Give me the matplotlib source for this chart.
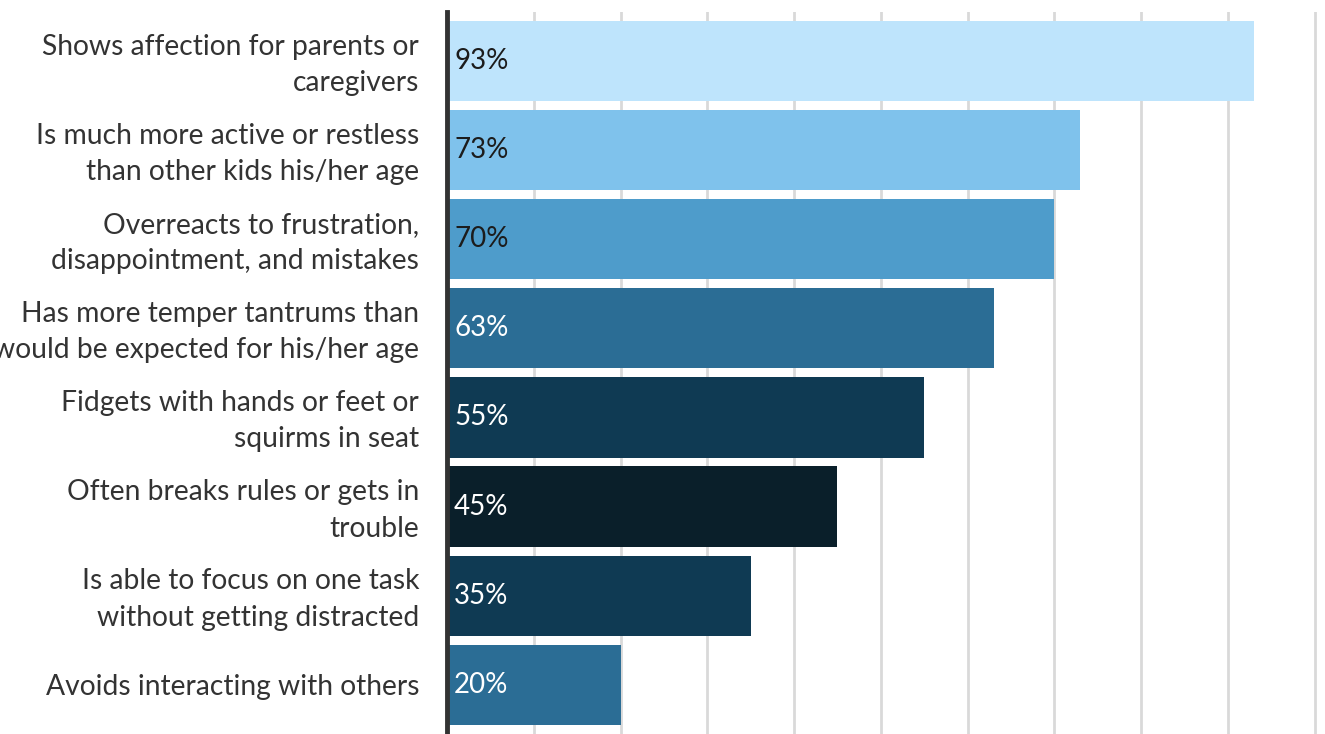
import matplotlib.pyplot as plt
from matplotlib.transforms import blended_transform_factory, ScaledTranslation

# Behaviour categories and share of respondents (percent)
labels = [
    "Shows affection for parents or\ncaregivers",
    "Is much more active or restless\nthan other kids his/her age",
    "Overreacts to frustration,\ndisappointment, and mistakes",
    "Has more temper tantrums than\nwould be expected for his/her age",
    "Fidgets with hands or feet or\nsquirms in seat",
    "Often breaks rules or gets in\ntrouble",
    "Is able to focus on one task\nwithout getting distracted",
    "Avoids interacting with others",
]
values = [93, 73, 70, 63, 55, 45, 35, 20]
bar_colors = ["#bee4fc", "#7fc2ec", "#4e9ccb", "#2b6d95",
              "#0f3a53", "#0a1f2a", "#0f3a53", "#2b6d95"]
text_colors = ["#1c1c1c", "#1c1c1c", "#1c1c1c", "white",
               "white", "white", "white", "white"]

plt.rcParams['font.family'] = ['Lato', 'DejaVu Sans']

W, H = 1325, 734
fig = plt.figure(figsize=(W / 100, H / 100), dpi=100)
ax = fig.add_axes([447 / W, 0, 1 - 447 / W, 1 - 12 / H])

pos = list(range(len(values)))
ax.barh(pos, values, height=0.9, color=bar_colors, zorder=2)

ax.set_xlim(0, 101.2)
ax.set_ylim(7.553, -0.55)
ax.set_xticks(range(10, 101, 10))
ax.xaxis.grid(True, color="#d9d9d9", linewidth=2, zorder=0)
ax.tick_params(axis="x", length=0, labelbottom=False)

for s in ["top", "right", "bottom"]:
    ax.spines[s].set_visible(False)
ax.spines["left"].set_color("#333333")
ax.spines["left"].set_linewidth(3.5)
ax.spines["left"].set_zorder(3)

ax.set_yticks(pos)
ax.set_yticklabels(labels, fontsize=20.3, color="#333333", linespacing=1.5)
ax.tick_params(axis="y", length=0, pad=20)
# nudge the two-line labels up a little so they sit centred on the bars
lift = ScaledTranslation(0, 0.04, fig.dpi_scale_trans)
for lab in ax.get_yticklabels():
    if "\n" in lab.get_text():
        lab.set_transform(lab.get_transform() + lift)

trans = blended_transform_factory(ax.transAxes, ax.transData)
for i, v in enumerate(values):
    ax.text(0.008, i, f"{v}%", transform=trans, va="center", ha="left",
            fontsize=20, color=text_colors[i], zorder=4)

fig.savefig("out.png", dpi=100)
